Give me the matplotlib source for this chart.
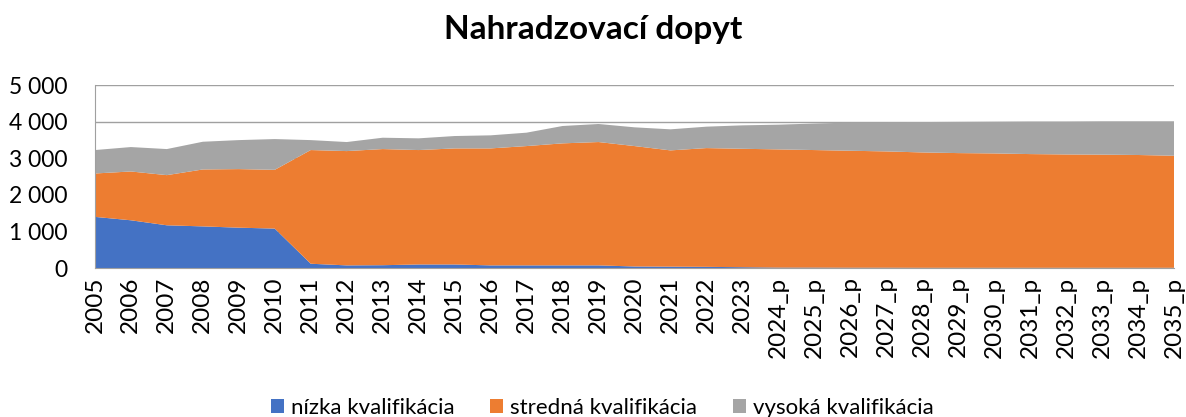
import matplotlib.pyplot as plt
import numpy as np

# data
years = ['2005', '2006', '2007', '2008', '2009', '2010', '2011', '2012', '2013', '2014',
         '2015', '2016', '2017', '2018', '2019', '2020', '2021', '2022', '2023',
         '2024_p', '2025_p', '2026_p', '2027_p', '2028_p', '2029_p', '2030_p',
         '2031_p', '2032_p', '2033_p', '2034_p', '2035_p']
nizka = [1400, 1307, 1170, 1140, 1105, 1080, 120, 75, 80, 100,
         100, 75, 75, 75, 75, 45, 40, 35, 25,
         15, 15, 12, 12, 10, 10, 10, 10, 10, 10, 10, 10]
stredna = [1185, 1333, 1370, 1555, 1600, 1605, 3105, 3122, 3172, 3125,
           3170, 3195, 3259, 3333, 3369, 3289, 3176, 3244, 3235,
           3228, 3210, 3194, 3176, 3150, 3132, 3123, 3105, 3095, 3090, 3080, 3060]
vysoka = [640, 667, 712, 757, 792, 840, 272, 247, 310, 320,
          338, 357, 366, 474, 493, 512, 575, 585, 640,
          675, 725, 769, 792, 830, 853, 867, 890, 900, 910, 920, 940]
labels = ['nízka kvalifikácia', 'stredná kvalifikácia', 'vysoká kvalifikácia']
colors = ['#4472C4', '#ED7D31', '#A5A5A5']

plt.rcParams['font.family'] = ['Lato', 'DejaVu Sans']

fig = plt.figure(figsize=(11.86, 4.17), dpi=100)
ax = fig.add_axes([0.080, 0.357, 0.910, 0.439])

x = np.arange(len(years))
ax.stackplot(x, nizka, stredna, vysoka, labels=labels, colors=colors, linewidth=0)

ax.set_xlim(0, len(years) - 1)
ax.set_ylim(0, 5000)
yt = [0, 1000, 2000, 3000, 4000, 5000]
ax.set_yticks(yt)
ax.set_yticklabels(['{:,}'.format(v).replace(',', ' ') for v in yt], fontsize=16.5)
ax.set_xticks(x)
ax.set_xticklabels(years, rotation=90, fontsize=17.5)
ax.tick_params(axis='x', length=0, pad=6)
ax.tick_params(axis='y', length=0, pad=20)

ax.grid(axis='y', color='#A0A0A0', linewidth=1)
ax.set_axisbelow(True)
for s in ['top', 'right']:
    ax.spines[s].set_visible(False)
for s in ['left', 'bottom']:
    ax.spines[s].set_color('#A0A0A0')

fig.suptitle('Nahradzovací dopyt', fontsize=24, fontweight='bold', y=0.965)

ax.legend(loc='upper center', bbox_to_anchor=(0.47, -0.60), ncol=3, frameon=False,
          fontsize=16, handlelength=0.6, handleheight=0.6, handletextpad=0.3,
          columnspacing=1.6)

fig.savefig('out.png', dpi=100)
